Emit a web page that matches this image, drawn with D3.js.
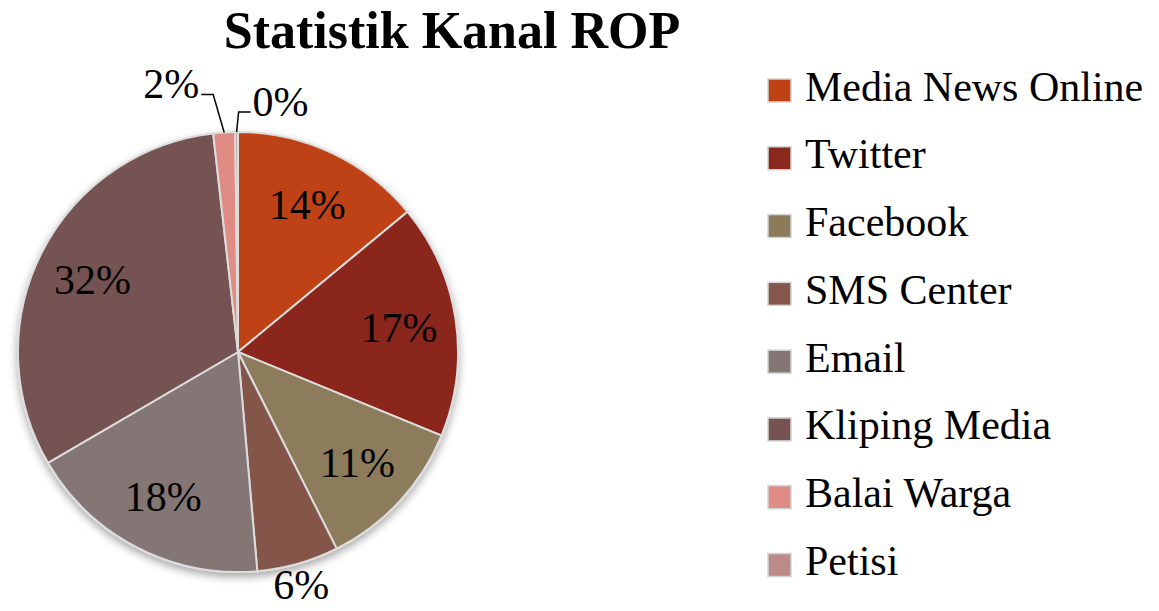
<!DOCTYPE html>
<html>
<head>
<meta charset="utf-8">
<script src="https://cdn.jsdelivr.net/npm/d3@7"></script>
<style>
  body { margin: 0; background: #fff; }
  text { font-family: "Liberation Serif", "DejaVu Serif", serif; fill: #000; }
</style>
</head>
<body>
<svg id="chart" width="1159" height="611"></svg>
<script>
// channel shares (percent)
const channels = ['Media News Online', 'Twitter', 'Facebook', 'SMS Center', 'Email', 'Kliping Media', 'Balai Warga', 'Petisi'];
const shares = [14.0, 17.2, 11.4, 6.0, 18.0, 31.6, 1.6, 0.2];
const sliceColors = ['#bf4215', '#8a281e', '#8c7b5b', '#84574a', '#847675', '#765252', '#de8c84', '#bc8a88'];

const svg = d3.select('#chart');
const cx = 238, cy = 352, radius = 220;

const data = channels.map((c, i) => ({ channel: c, value: shares[i] }));
const total = d3.sum(shares);
const pct = d => d3.format('.0f')(d.data.value / total * 100) + '%';

const color = d3.scaleOrdinal().domain(channels).range(sliceColors);

// soft shadow under the pie
const defs = svg.append('defs');
defs.append('filter')
    .attr('id', 'shadow')
    .attr('x', '-20%').attr('y', '-20%').attr('width', '140%').attr('height', '140%')
    .append('feDropShadow')
    .attr('dx', 0).attr('dy', 4).attr('stdDeviation', 4)
    .attr('flood-color', '#000').attr('flood-opacity', 0.35);

svg.append('text')
    .attr('x', 452)
    .attr('y', 48)
    .attr('text-anchor', 'middle')
    .attr('font-size', 52)
    .attr('font-weight', 'bold')
    .text('Statistik Kanal ROP');

const pie = d3.pie().sort(null).value(d => d.value);
const arcs = pie(data);

const arc = d3.arc().innerRadius(0).outerRadius(radius);
const labelArc = d3.arc().innerRadius(radius * 0.74).outerRadius(radius * 0.74);
const outerArc = d3.arc().innerRadius(radius + 30).outerRadius(radius + 30);

const g = svg.append('g').attr('transform', `translate(${cx},${cy})`);

g.append('g')
    .attr('filter', 'url(#shadow)')
    .selectAll('path')
    .data(arcs)
    .join('path')
    .attr('d', arc)
    .attr('fill', d => color(d.data.channel))
    .attr('stroke', '#dcdcdc')
    .attr('stroke-width', 2);

// labels that fit inside the slice
const inside = arcs.filter(d => d.value >= 10);
g.selectAll('.inlabel')
    .data(inside)
    .join('text')
    .attr('class', 'inlabel')
    .attr('transform', d => `translate(${labelArc.centroid(d)})`)
    .attr('text-anchor', 'middle')
    .attr('dy', '0.35em')
    .attr('font-size', 42)
    .text(pct);

// SMS Center label just outside
const sms = arcs[3];
const [sx, sy] = outerArc.centroid(sms);
g.append('text')
    .attr('x', sx - 5)
    .attr('y', sy - 8)
    .attr('text-anchor', 'middle')
    .attr('dy', '0.35em')
    .attr('font-size', 42)
    .text(pct(sms));

// small slices with leader lines
const leaders = [
    { d: arcs[6], rise: 38, run: -12, lean: -11, anchor: 'end' },
    { d: arcs[7], rise: 20, run: 12, lean: 2, anchor: 'start' }
];
const edgeArc = d3.arc().innerRadius(radius).outerRadius(radius);
leaders.forEach(l => {
    const [x0, y0] = edgeArc.centroid(l.d);
    const x1 = x0 + l.lean, y1 = y0 - l.rise;
    const x2 = x1 + l.run;
    g.append('path')
        .attr('d', d3.line()([[x0, y0], [x1, y1], [x2, y1]]))
        .attr('fill', 'none')
        .attr('stroke', '#000')
        .attr('stroke-width', 1.5);
    g.append('text')
        .attr('x', x2 + (l.anchor === 'end' ? -2 : 2))
        .attr('y', y1 - 11)
        .attr('text-anchor', l.anchor)
        .attr('dy', '0.35em')
        .attr('font-size', 42)
        .text(pct(l.d));
});

// legend
const rowY = d3.scalePoint().domain(channels).range([90.5, 565]);
const legend = svg.append('g')
    .selectAll('g')
    .data(channels)
    .join('g')
    .attr('transform', d => `translate(768,${rowY(d)})`);

legend.append('rect')
    .attr('x', 0)
    .attr('y', -11.5)
    .attr('width', 23)
    .attr('height', 23)
    .attr('fill', d => color(d))
    .attr('stroke', '#d4d4d4')
    .attr('stroke-width', 1.5);

legend.append('text')
    .attr('x', 37)
    .attr('y', 10)
    .attr('font-size', 42)
    .text(d => d);
</script>
</body>
</html>
